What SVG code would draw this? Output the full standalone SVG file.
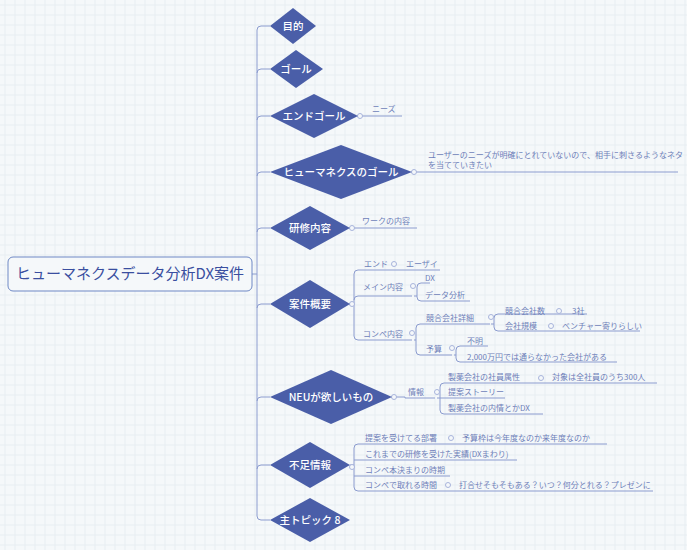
<svg xmlns="http://www.w3.org/2000/svg" width="687" height="550" viewBox="0 0 687 550">
<defs>
<pattern id="bg" width="10" height="10" patternUnits="userSpaceOnUse"><rect width="10" height="10" fill="#f5f8fa"/><path d="M0 5H10M5 0V10" stroke="#e8eef3" stroke-width="1"/></pattern>
</defs>
<style>
.d{fill:#4a5ea8}
.dt{fill:#fff;font-family:"Noto Sans CJK JP","Noto Sans",sans-serif;font-size:10.5px;font-weight:500;text-anchor:middle}
.t{fill:#6e7fb9;font-family:"Noto Sans CJK JP","Noto Sans",sans-serif;font-size:8px}
.l{stroke:#8c9ccf;stroke-width:1;fill:none}
.c{fill:#f5f8fa;stroke:#a8b4dc;stroke-width:1}
</style>
<rect width="687" height="550" fill="url(#bg)"/>
<g id="connectors">
<path class="l" d="M252 274H257M257 30V516M257 30Q257 26 261 26H270M257 73Q257 69 261 69H270M257 120Q257 116 261 116H270M257 176Q257 172 261 172H270M257 232Q257 228 261 228H270M257 308Q257 304 261 304H270M257 401Q257 397 261 397H270M257 469Q257 465 261 465H270M257 516Q257 520 261 520H270"/>
<path class="l" d="M358 116H402M412 172H678M350 228H417"/>
<path class="l" d="M350 304H354M354 274V336Q354 340 358 340H412M354 274Q354 270 358 270H440M354 300Q354 296 358 296H412"/>
<path class="l" d="M414 296H417M417 287V297Q417 301 421 301H470M417 287Q417 283 421 283H430"/>
<path class="l" d="M414 340H416M416 328V351Q416 355 420 355H452M416 328Q416 324 420 324H490"/>
<path class="l" d="M491 324H494M494 318V327Q494 331 498 331H640M494 318Q494 314 498 314H587"/>
<path class="l" d="M454 355H456M456 350V358Q456 362 460 362H617M456 350Q456 346 460 346H488"/>
<path class="l" d="M392 397H405V398H435M437 398H440M440 387V410Q440 414 444 414H543M440 387Q440 383 444 383H657M440 398H505"/>
<path class="l" d="M350 465H354M354 448V487Q354 491 358 491H653M354 448Q354 444 358 444H607M354 460H517M354 476H450"/>
<circle class="c" cx="360" cy="116" r="2.5"/><circle class="c" cx="414" cy="172" r="2.5"/><circle class="c" cx="352" cy="228" r="2.5"/>
<circle class="c" cx="352" cy="304" r="2.5"/><circle class="c" cx="394" cy="264" r="2.5"/><circle class="c" cx="413" cy="286" r="2.5"/><circle class="c" cx="412" cy="333" r="2.5"/>
<circle class="c" cx="491" cy="317" r="2.5"/><circle class="c" cx="559" cy="311" r="2.5"/><circle class="c" cx="551" cy="326" r="2.5"/><circle class="c" cx="452" cy="348" r="2.5"/>
<circle class="c" cx="394" cy="397" r="2.5"/><circle class="c" cx="437" cy="392" r="2.5"/><circle class="c" cx="541" cy="378" r="2.5"/>
<circle class="c" cx="352" cy="467" r="2.5"/><circle class="c" cx="451" cy="438" r="2.5"/><circle class="c" cx="448" cy="485" r="2.5"/>
</g>
<g id="center"><rect x="8" y="257" width="244" height="34" rx="5" fill="#f5f8fa" stroke="#6e88c5"/><text x="130" y="279" font-family="Noto Sans CJK JP,sans-serif" font-size="15" fill="#3a4fa0" text-anchor="middle">ヒューマネクスデータ分析DX案件</text></g>
<g id="n1"><polygon class="d" points="270,26 293,8 316,26 293,44"/><text class="dt" x="293" y="30">目的</text></g>
<g id="n2"><polygon class="d" points="270,69 296,50 323,69 296,88"/><text class="dt" x="296" y="73">ゴール</text></g>
<g id="n3"><polygon class="d" points="270,116 314,94 358,116 314,138"/><text class="dt" x="314" y="120">エンドゴール</text><text class="t" x="372" y="112">ニーズ</text></g>
<g id="n4"><polygon class="d" points="270,172 341,145 412,172 341,199"/><text class="dt" x="341" y="176">ヒューマネクスのゴール</text><text class="t" x="428" y="158">ユーザーのニーズが明確にとれていないので、相手に刺さるようなネタ</text><text class="t" x="428" y="168">を当てていきたい</text></g>
<g id="n5"><polygon class="d" points="270,228 310,206 350,228 310,250"/><text class="dt" x="310" y="232">研修内容</text><text class="t" x="362" y="224">ワークの内容</text></g>
<g id="n6"><polygon class="d" points="270,304 310,280 350,304 310,328"/><text class="dt" x="310" y="308">案件概要</text>
<text class="t" x="364" y="267">エンド</text><text class="t" x="406" y="267">エーザイ</text>
<text class="t" x="363" y="290">メイン内容</text><text class="t" x="425" y="281">DX</text><text class="t" x="425" y="298">データ分析</text>
<text class="t" x="363" y="337">コンペ内容</text><text class="t" x="426" y="321">競合会社詳細</text><text class="t" x="505" y="314">競合会社数</text><text class="t" x="572" y="314">3社</text><text class="t" x="505" y="329">会社規模</text><text class="t" x="562" y="329">ベンチャー寄りらしい</text>
<text class="t" x="426" y="352">予算</text><text class="t" x="467" y="344">不明</text><text class="t" x="467" y="360">2,000万円では通らなかった会社がある</text></g>
<g id="n7"><polygon class="d" points="270,397 331,370 392,397 331,424"/><text class="dt" x="331" y="401">NEUが欲しいもの</text>
<text class="t" x="408" y="395">情報</text><text class="t" x="448" y="380">製薬会社の社員属性</text><text class="t" x="552" y="380">対象は全社員のうち300人</text><text class="t" x="448" y="395">提案ストーリー</text><text class="t" x="448" y="411">製薬会社の内情とかDX</text></g>
<g id="n8"><polygon class="d" points="270,465 310,442 350,465 310,488"/><text class="dt" x="310" y="469">不足情報</text>
<text class="t" x="365" y="441">提案を受けてる部署</text><text class="t" x="462" y="441">予算枠は今年度なのか来年度なのか</text><text class="t" x="365" y="457">これまでの研修を受けた実績(DXまわり)</text><text class="t" x="365" y="473">コンペ本決まりの時期</text><text class="t" x="365" y="488">コンペで取れる時間</text><text class="t" x="459" y="488">打合せそもそもある？いつ？何分とれる？プレゼンに</text></g>
<g id="n9"><polygon class="d" points="270,520 310,498 350,520 310,542"/><text class="dt" x="310" y="524">主トピック 8</text></g>
</svg>
